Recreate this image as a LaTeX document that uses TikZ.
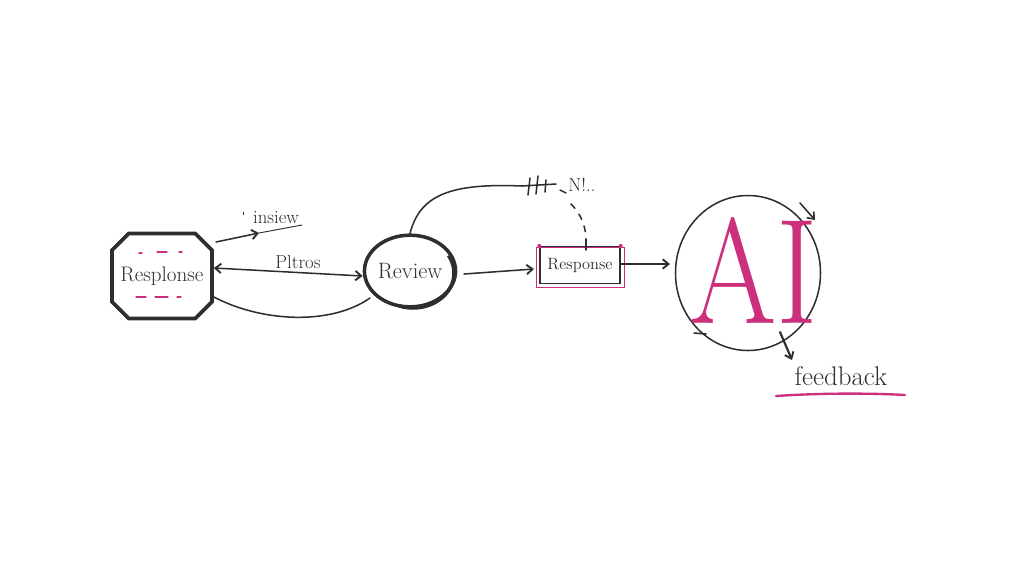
\documentclass[tikz,border=0pt]{standalone}
\usetikzlibrary{arrows.meta,shapes.misc,shapes.geometric}
\definecolor{ink}{HTML}{2E2E2E}
\definecolor{pinkish}{HTML}{CC2F7C}
\begin{document}
\begin{tikzpicture}[x=0.03cm,y=-0.03cm,
  conn/.style={draw=ink,line width=1.3pt,line cap=round},
  arr/.style={conn,-{Straight Barb[length=5pt,width=8pt,line width=1.6pt]}},
  lbl/.style={font=\fontsize{16}{18}\selectfont,text=ink},
  pinkline/.style={draw=pinkish,line width=1pt,line cap=round}]
\useasboundingbox[fill=white] (0,0) rectangle (1024,576);

% left box
\node[chamfered rectangle,chamfered rectangle xsep=0.25cm,chamfered rectangle ysep=0.25cm,
  draw=ink,line width=3.2pt,minimum width=2.9cm,minimum height=2.55cm,
  inner sep=0pt,font=\fontsize{18}{20}\selectfont,text=ink] (resp) at (162,276) {Resplonse};
\draw[pinkline] (139,253) -- (142,253) (157,252) -- (167,252) (179,252) -- (182,252)
  (136,297) -- (146,297) (155,297) -- (168,297) (177,297) -- (181,297);

% Review ellipse
\node[ellipse,draw=ink,line width=3pt,minimum width=2.5cm,minimum height=2.15cm,
  inner sep=0pt,font=\fontsize{19}{21}\selectfont,text=ink] (review) at (410,271) {Review};
\draw[ink,line width=3pt,shift={(413,273)}] (-30:41 and 35) arc[start angle=-30,end angle=110,x radius=41,y radius=35];

% Response box
\node[rectangle,draw=ink,line width=1.3pt,minimum width=2.4cm,minimum height=1.1cm,
  inner sep=0pt,font=\fontsize{14}{16}\selectfont,text=ink] (response) at (580,265) {Response};
\draw[pinkish,line width=0.9pt] ([shift={(-3,3)}]response.south west) rectangle ([shift={(4,2)}]response.north east);
\fill[pinkish] (response.north west) circle (2) (response.north east) circle (2);

% AI circle
\node[ellipse,draw=ink,line width=1.3pt,minimum width=4.35cm,minimum height=4.65cm,inner sep=0pt] (ai) at (748,273) {};
\node[text=pinkish,font=\fontsize{128}{128}\selectfont,xscale=0.84,inner sep=0pt] (ailetters) at (754,270) {AI};

% labels
\node[lbl] (insiew) at (276,218) {insiew};
\node[lbl] (pltros) at (298,262) {Pltros};
\node[lbl] (nmark) at (582,185) {N!..};
\node[font=\fontsize{23}{25}\selectfont,text=ink] (feedback) at (841,376) {feedback};

% connectors
\coordinate (a1) at (216,242);
\coordinate (a2) at (259,233);
\coordinate (a3) at (302,225);
\draw[arr] (a1) -- (a2);
\draw[conn,line width=0.8pt] (a2) -- (a3);
\draw[ink,line width=0.8pt] (243,212) -- (243,215);

\draw[conn,{Straight Barb[length=5pt,width=8pt,line width=1.6pt]}-{Straight Barb[length=5pt,width=8pt,line width=1.6pt]}]
  (resp.east |- 0,268) -- (review.west |- 0,276);
\draw[conn] (212,296) .. controls (260,322) and (330,326) .. (370,298);

\coordinate (h0) at (522,186);
\draw[conn] (review.north) .. controls (420,195) and (450,183) .. (h0);
\draw[conn] (h0) -- (556,184);
\draw[conn] (530,178) -- (528,195) (538,176) -- (536,194) (546,180) -- (545,192);
\draw[conn] (560,190) -- (566,193);
\draw[conn,dash pattern=on 5pt off 6pt] (571,204) .. controls (582,215) and (586,228) .. (586,240);
\draw[conn] (586,240) -- (586,250);

\draw[arr] (464,274) -- (534,269);
\draw[arr,line width=1.8pt] (response.east |- 0,264) -- (670,264);

% AI circle marks
\draw[conn,-{Straight Barb[length=5pt,width=8pt,line width=1.4pt]}] (800,203) -- (815,220);
\draw[conn] (694,333) -- (706,334);
\draw[arr,line width=1.8pt] (780,332) -- (792,360);
\draw[pinkline,line width=2pt] (776,396) .. controls (820,393) and (870,393) .. (905,395);
\end{tikzpicture}
\end{document}
